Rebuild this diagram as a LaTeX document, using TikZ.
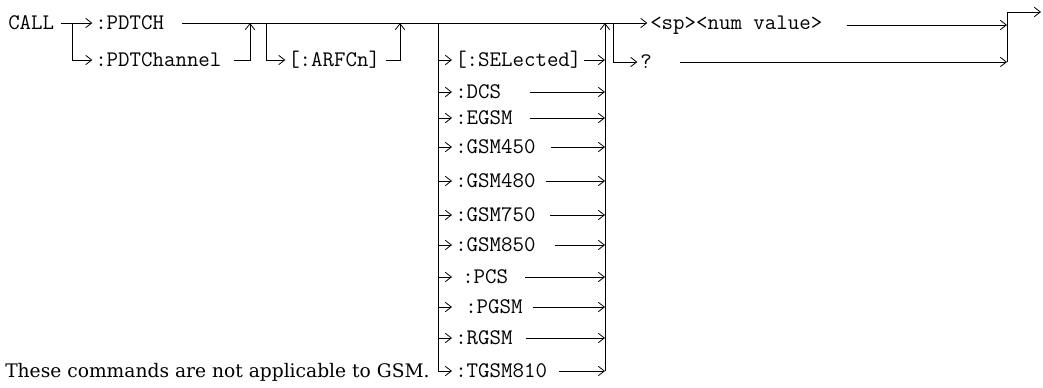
\documentclass[tikz,border=0pt]{standalone}
\usepackage{fontspec}
\newfontfamily\notefont{DejaVu Serif}
\usetikzlibrary{arrows.meta, positioning, calc}

\begin{document}
\begin{tikzpicture}[x=0.75pt, y=-0.75pt,
    kw/.style={font=\ttfamily\fontsize{16.7}{19}\selectfont, inner sep=0pt, anchor=west},
    rail/.style={line width=0.7pt},
    flow/.style={rail, -{Straight Barb[length=4.5pt, width=7pt, line width=0.6pt]}}]
  \useasboundingbox (0,0) rectangle (1043,387);

  % Root and subsystem keyword
  \node[kw] (call) at (8,23) {CALL};
  \node[kw] (pdtch) at (95,23) {:PDTCH};
  \node[kw] (pdtchan) at (95,60) {:PDTChannel};
  \coordinate (j1) at (72,23);
  \draw[flow] ([xshift=5pt]call.east) -- ([xshift=-2pt]pdtch.west);
  \draw[flow] (j1) |- ([xshift=-2pt]pdtchan.west);
  \coordinate (u1) at (250,23);
  \draw[flow] ([xshift=9pt]pdtchan.east) -| (u1);

  % Optional ARFCn
  \coordinate (j2) at (266,23);
  \coordinate (u2) at (400,23);
  \node[kw] (arfcn) at (288,60) {[:ARFCn]};
  \draw[flow] (j2) |- ([xshift=-2pt]arfcn.west);
  \draw[flow] ([xshift=4pt]arfcn.east) -| (u2);

  % Band list
  \coordinate (j3) at (438,23);
  \coordinate (m3) at (605,23);
  \coordinate (tipx) at (452,0);
  \foreach \name/\txt/\y/\tx/\g in {sel/{[:SELected]}/60/455/2, dcs/:DCS/92/455/29,
      egsm/:EGSM/118/455/17, g450/:GSM450/147/455/15, g480/:GSM480/181/455/10,
      g750/:GSM750/215/455/14, g850/:GSM850/245/455/19, pcs/:PCS/277/462/17,
      pgsm/:PGSM/307/465/10, rgsm/:RGSM/338/455/13, tgsm/:TGSM810/371/455/12}{
    \node[kw] (b\name) at (\tx,\y) {\txt};
    \draw[flow] (j3 |- b\name) -- (tipx |- b\name);
    \draw[flow] ([xshift=\g*0.75pt]b\name.east) -- (m3 |- b\name);
  }
  \draw[rail] (j3) -- (j3 |- btgsm);
  \draw[flow] (m3 |- btgsm) -- (m3);

  % Main rail
  \node[kw] (sp) at (650,25) {<sp><num value>};
  \draw[flow] ([xshift=13.5pt]pdtch.east) -- ([xshift=-2pt]sp.west |- j1);

  % Query form and end
  \coordinate (j4) at (613,23);
  \node[kw] (query) at (640,62) {?};
  \coordinate (m4) at (1007,62);
  \coordinate (outtop) at (1007,12);
  \coordinate (endp) at (1041,12);
  \draw[flow] (j4) |- ([xshift=-2pt]query.west);
  \draw[flow] ([xshift=21pt]query.east) -- (m4);
  \draw[flow] ([xshift=18pt]sp.east) -- (m4 |- sp);
  \draw[flow] (m4) -- (outtop) -- (endp);

  % Footnote
  \node[font=\notefont\fontsize{14}{16}\selectfont, anchor=west, inner sep=0pt] (note) at (5,372) {These commands are not applicable to GSM.};
\end{tikzpicture}
\end{document}
